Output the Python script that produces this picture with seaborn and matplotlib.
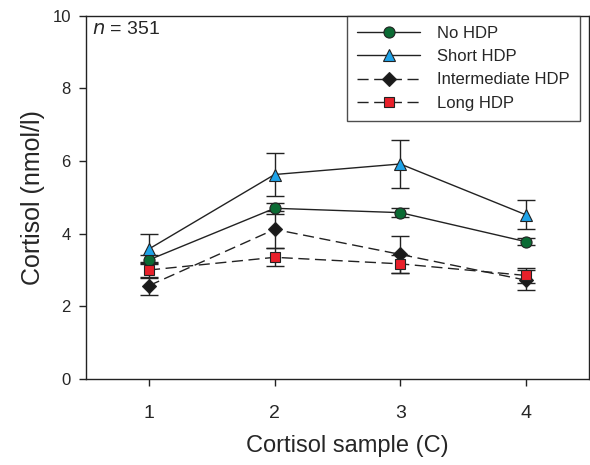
import numpy as np
import pandas as pd
import matplotlib
matplotlib.use('Agg')
import matplotlib.pyplot as plt
import seaborn as sns

sns.set_theme(style='ticks')
plt.rcParams['font.family'] = ['Liberation Sans', 'DejaVu Sans']

# Data
samples = [1, 2, 3, 4]
groups = ['No HDP', 'Short HDP', 'Intermediate HDP', 'Long HDP']
no_hdp = [3.28, 4.70, 4.58, 3.78]
no_hdp_err = [0.12, 0.15, 0.12, 0.10]
short_hdp = [3.58, 5.63, 5.92, 4.52]
short_hdp_err = [0.40, 0.60, 0.66, 0.40]
inter_hdp = [2.57, 4.12, 3.43, 2.72]
inter_hdp_err = [0.25, 0.50, 0.50, 0.27]
long_hdp = [3.00, 3.35, 3.17, 2.85]
long_hdp_err = [0.22, 0.25, 0.25, 0.20]

values = [no_hdp, short_hdp, inter_hdp, long_hdp]
errors = [no_hdp_err, short_hdp_err, inter_hdp_err, long_hdp_err]
markers = ['o', '^', 'D', 's']
colors = ['#0b6b34', '#1fa3e8', '#1a1a1a', '#e8202a']
linestyles = ['-', '-', (0, (8, 4)), (0, (8, 4))]
msizes = [8, 8.5, 7, 7.5]

df = pd.DataFrame({
    'sample': samples * 4,
    'group': np.repeat(groups, 4),
    'cortisol': np.concatenate(values),
})

fig = plt.figure(figsize=(5.9, 4.65), dpi=100)
ax = fig.add_axes([0.146, 0.185, 0.852, 0.781])

for i, g in enumerate(groups):
    ax.errorbar(samples, values[i], yerr=errors[i], fmt='none', ecolor='#222222',
                elinewidth=1, capsize=6.5, capthick=1, zorder=2)
    sub = df[df['group'] == g]
    sns.lineplot(data=sub, x='sample', y='cortisol', ax=ax, color='#222222', lw=1,
                 linestyle=linestyles[i], marker=markers[i], markersize=msizes[i],
                 markerfacecolor=colors[i], markeredgecolor='#222222',
                 markeredgewidth=0.8, label=g, zorder=3)

ax.set_xlim(0.5, 4.5)
ax.set_ylim(0, 10)
ax.set_xticks(samples)
ax.set_yticks([0, 2, 4, 6, 8, 10])
ax.tick_params(axis='y', labelsize=12, length=5, width=1, color='#222222', pad=6)
ax.tick_params(axis='x', labelsize=14, length=5, width=1, color='#222222', pad=14)
for s in ax.spines.values():
    s.set_color('#222222')
    s.set_linewidth(1)
ax.set_xlabel('Cortisol sample (C)', fontsize=17, labelpad=6)
ax.xaxis.set_label_coords(0.52, -0.155)
ax.set_ylabel('Cortisol (nmol/l)', fontsize=18, labelpad=5)
ax.text(0.012, 0.985, r'$n$ = 351', transform=ax.transAxes, fontsize=14,
        va='top', ha='left')

leg = ax.legend(loc='upper right', bbox_to_anchor=(0.982, 1.0), fontsize=12,
                frameon=True, fancybox=False, edgecolor='#222222',
                handlelength=3.8, handletextpad=1.0, borderpad=0.6,
                labelspacing=0.5, borderaxespad=0)
leg.get_frame().set_linewidth(1)

fig.savefig('out.png', dpi=100)
